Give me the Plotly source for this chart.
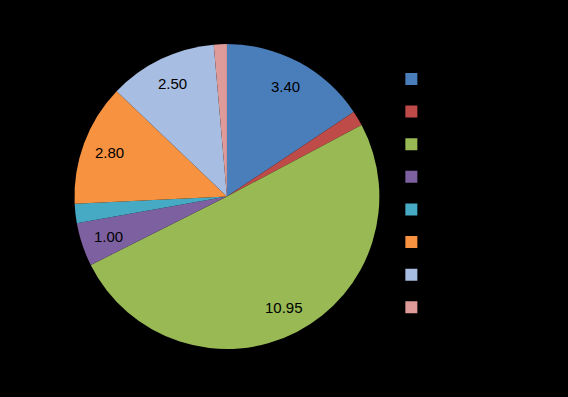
import math
import plotly.graph_objects as go

categories = ["1", "2", "3", "4", "5", "6", "7", "8"]
values = [3.40, 0.35, 10.95, 1.00, 0.45, 2.80, 2.50, 0.30]
colors = ["#4a7ebb", "#be4b48", "#98b954", "#7d60a0", "#46aac5", "#f69240", "#a7bde1", "#de9b9a"]

W, H = 568, 397
dom_x = [0.130, 0.669]
dom_y = [0.121, 0.889]

fig = go.Figure(go.Pie(
    labels=categories,
    values=values,
    textinfo="none",
    marker=dict(colors=colors, line=dict(width=0)),
    sort=False,
    direction="clockwise",
    rotation=0,
    domain=dict(x=dom_x, y=dom_y),
    hoverinfo="none",
))

# data labels placed at the middle angle of each slice (values >= 1 only)
cx = (dom_x[0] + dom_x[1]) / 2 * W
cy = (dom_y[0] + dom_y[1]) / 2 * H
R = min((dom_x[1] - dom_x[0]) * W, (dom_y[1] - dom_y[0]) * H) / 2
total = sum(values)
cum = 0.0
for v in values:
    mid = (cum + v / 2) / total * 2 * math.pi
    cum += v
    if v < 1:
        continue
    r = 0.82 * R
    x = (cx + r * math.sin(mid)) / W
    y = (cy + r * math.cos(mid)) / H
    fig.add_annotation(
        x=x, y=y, xref="paper", yref="paper",
        text=f"{v:.2f}", showarrow=False,
        xanchor="center", yanchor="middle",
        font=dict(family="Liberation Sans", size=15, color="black"),
    )

fig.update_layout(
    width=W, height=H,
    margin=dict(l=0, r=0, t=0, b=0),
    paper_bgcolor="black",
    plot_bgcolor="black",
    showlegend=True,
    legend=dict(
        x=0.689, y=0.855, xanchor="left", yanchor="top",
        font=dict(family="DejaVu Sans", size=22.8, color="black"),
        bgcolor="rgba(0,0,0,0)",
    ),
)

fig.write_html(
    "out.html",
    config={"displayModeBar": False},
    post_script="document.body.style.margin='0';document.body.style.background='black';",
)
